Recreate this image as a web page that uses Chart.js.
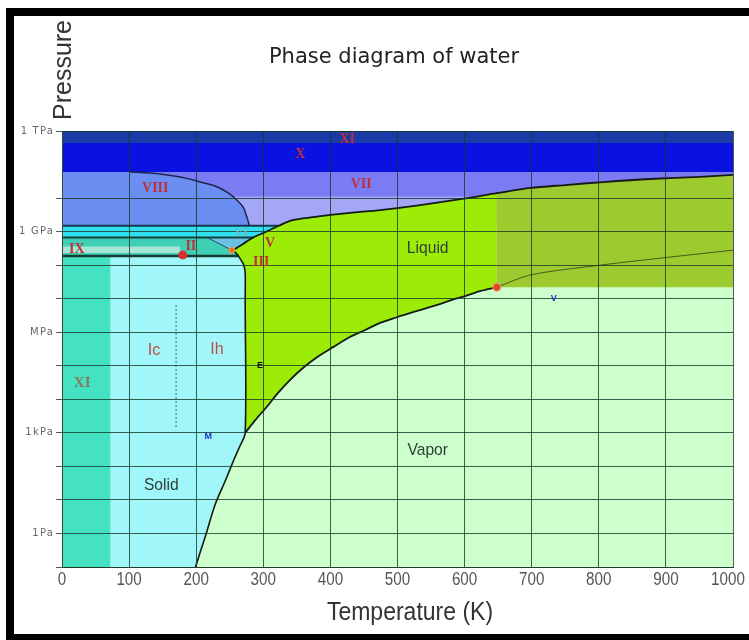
<!DOCTYPE html>
<html lang="en">
<head>
<meta charset="UTF-8">
<title>Phase diagram of water</title>
<script src="https://cdn.jsdelivr.net/npm/chart.js"></script>
<style>
    html, body { margin: 0; padding: 0; background: #fff; }
    body { width: 749px; height: 640px; position: relative; overflow: hidden; }
    #wrap { position: absolute; left: 0; top: 0; width: 749px; height: 640px; }
    .frame {
        position: absolute; left: 6px; top: 8px; width: 800px; height: 618px;
        border-top: 8px solid #000; border-left: 8px solid #000; border-bottom: 6px solid #000;
        pointer-events: none;
    }
</style>
</head>
<body>
<div id="wrap"><canvas id="phaseChart"></canvas></div>
<div class="frame"></div>

<script>
    // axis ticks
    const tempTicks = [0, 100, 200, 300, 400, 500, 600, 700, 800, 900, 1000];
    const pressureDecades = [-1, 0, 1, 2, 3, 4, 5, 6, 7, 8, 9, 10, 11, 12];
    const pressureLabelAt = [12, 9, 6, 3, 0];
    const pressureLabelText = ['1 TPa', '1 GPa', 'MPa', '1kPa', '1Pa'];

    // boundaries, [T (K), P (Pa)]
    const meltCurve = [[255, 2.8e8], [270, 4.3e8], [285, 6.7e8], [303, 9.7e8], [323, 1.5e9], [344, 2.2e9],
                       [374, 2.7e9], [404, 3.2e9], [440, 3.8e9], [471, 4.3e9], [534, 6.2e9], [604, 1.0e10],
                       [648, 1.4e10], [698, 2.0e10], [750, 2.45e10], [806, 3.0e10], [876, 3.7e10],
                       [951, 4.3e10], [1000, 4.9e10]];
    const iceIhMelt = [[273, 1000], [273, 9.1e6], [273, 5.9e7], [271, 1.0e8], [268, 1.3e8], [263, 1.86e8],
                       [261, 2.1e8], [255, 2.8e8]];
    const boilCurve = [[273, 1000], [288, 2.4e3], [305, 5.9e3], [322, 1.55e4], [340, 3.8e4], [359, 8.6e4],
                       [380, 1.8e5], [404, 3.6e5], [429, 7.2e5], [452, 1.17e6], [474, 1.9e6], [499, 2.8e6],
                       [529, 4.3e6], [559, 6.5e6], [580, 9.1e6], [601, 1.2e7], [624, 1.7e7], [648, 2.2e7]];
    const sublCurve = [[199, 0.1], [207, 0.32], [215, 1.0], [228, 7.1], [244, 40], [256, 155], [264.5, 380], [273, 1000]];
    const widomLine = [[648, 2.2e7], [698, 5.1e7], [802, 1.0e8], [906, 1.74e8], [1000, 2.8e8]];
    const viiiCurve = [[101, 6.0e10], [131, 5.6e10], [157, 4.9e10], [183, 4.0e10], [206, 3.0e10], [228, 2.3e10],
                       [246, 1.5e10], [259, 9.4e9], [270, 5.4e9], [274, 3.35e9], [277, 2.2e9], [279, 1.5e9]];
    const iceVLine = [[216, 6.7e8], [253, 2.8e8]];
    const icIhLine = [[170, 1.5e3], [170, 6.5e6]];

    // band levels (Pa) and band temperatures (K)
    const pTop = 1e12, pBottom = 0.1;
    const pNavyLow = 4.4e11, pXLow = 6.0e10, pLightTop = 1.12e10;
    const pVIHigh = 1.5e9, pVILow = 6.7e8, pIILow = 1.86e8;
    const pIXTop = 3.6e8, pIXLow = 2.3e8, pCrit = 2.2e7;
    const tXI = 72, tIX = 176, tCrit = 648, tLight = 240;

    const specialPoints = [[180, 2.0e8], [253, 2.8e8], [648, 2.2e7]];

    const phaseLabels = [[545, 3.2e8, 'Liquid'], [545, 310, 'Vapor'], [148, 28, 'Solid']];
    const iceLabels = [[425, 5.8e11, 'XI'], [355, 2.0e11, 'X'], [139, 2.0e10, 'VIII'], [446, 2.6e10, 'VII'],
                       [310, 4.6e8, 'V'], [297, 1.23e8, 'III'], [192, 3.7e8, 'II'], [22, 3.0e8, 'IX']];
    const faintLabels = [[267, 9.1e8, 'VI']];
    const lowXILabel = [[30, 3.1e4, 'XI']];
    const ihLabels = [[137, 2.8e5, 'Ic'], [231, 3.0e5, 'Ih']];
    const markLabels = [[295, 1.05e5, 'E', '#111'], [218, 760, 'M', '#2233cc'], [733, 9.8e6, 'V', '#2233cc']];

    const pts = arr => arr.map(p => ({ x: p[0], y: p[1] }));
    const rect = (t0, t1, p0, p1) => [[t0, p0], [t1, p0], [t1, p1], [t0, p1]];
    const rev = arr => arr.slice().reverse();

    function area(points, color, order) {
        return { data: pts(points), backgroundColor: color, borderWidth: 0, fill: 'shape',
                 pointRadius: 0, tension: 0, order: order };
    }
    function curve(points, color, width, order, smooth, dash) {
        return { data: pts(points), borderColor: color, borderWidth: width, fill: false,
                 pointRadius: 0, tension: smooth, order: order, borderDash: dash || [] };
    }

    const meltToCrit = meltCurve.filter(p => p[0] <= tCrit);
    const meltFromCrit = meltCurve.filter(p => p[0] >= tCrit);
    const gridColor = 'rgba(25,55,40,0.8)';

    const datasets = [
        area(rect(0, 1000, pBottom, pTop), '#ccffcc', 100),
        area(rect(0, 1000, pNavyLow, pTop), '#1a3aa6', 90),
        area(rect(0, 1000, pXLow, pNavyLow), '#0a12e2', 89),
        area(rect(0, 1000, pVIHigh, pXLow), '#7b7bf4', 88),
        area(rect(tLight, 1000, pVIHigh, pLightTop), '#a3a7f6', 87),
        area([[0, pXLow]].concat(viiiCurve, [[0, pVIHigh]]), '#6a8ef2', 86),
        area([[0, pVIHigh], [323, pVIHigh], [303, 9.7e8], [285, pVILow], [0, pVILow]], '#30e0ef', 85),
        area([[0, pVILow], [285, pVILow], [270, 4.3e8], [255, 2.8e8], [261, 2.1e8], [263, pIILow], [0, pIILow]], '#3fcfb4', 84),
        area([[216, pVILow], [285, pVILow], [270, 4.3e8], [253, 2.8e8]], '#6cc0e2', 83),
        area(rect(0, tIX, pIXLow, pIXTop), '#a6e6d6', 82),
        area([[0, pBottom]].concat(sublCurve, iceIhMelt.filter(p => p[1] <= pIILow), [[0, pIILow]]), '#a0f6f8', 81),
        area(rect(0, tXI, pBottom, pIILow), '#45e2c2', 80),
        area(meltToCrit.concat([[tCrit, pCrit]], rev(boilCurve), iceIhMelt), '#9cec08', 79),
        area([[tCrit, pCrit], [1000, pCrit]].concat(rev(meltFromCrit)), '#9dca2e', 78),

        curve(viiiCurve, '#1c2648', 1.5, 20, 0.3),
        curve([[0, pVIHigh], [323, pVIHigh]], '#17384a', 2, 20, 0),
        curve([[0, pVILow], [285, pVILow]], '#15423e', 2, 20, 0),
        curve([[0, pIILow], [263, pIILow]], '#173a32', 2.5, 20, 0),
        curve(iceVLine, '#2a5060', 1, 20, 0),
        curve(meltCurve, '#151a15', 1.8, 19, 0.3),
        curve(sublCurve.concat(iceIhMelt.slice(1)), '#151a15', 1.6, 19, 0.3),
        curve(boilCurve, '#151a15', 1.8, 19, 0.3),
        curve(widomLine, '#4a5a1c', 1, 19, 0.3),
        curve(icIhLine, '#556', 1, 19, 0, [2, 2]),

        { type: 'scatter', data: pts(specialPoints), pointRadius: [4, 3, 4],
          backgroundColor: ['#dd3030', '#e87020', '#e04a1a'], borderColor: ['#dd3030', '#f0a060', '#f0a080'],
          borderWidth: 1, order: 1 }
    ];

    const textPlugin = {
        id: 'texts',
        afterDraw(chart) {
            const { ctx } = chart;
            const xs = chart.scales.x, ys = chart.scales.y;
            ctx.save();
            ctx.textAlign = 'center';
            ctx.textBaseline = 'middle';

            const squeezed = (text, cx, cy, sx) => {
                ctx.save(); ctx.translate(cx, cy); ctx.scale(sx, 1); ctx.fillText(text, 0, 0); ctx.restore();
            };
            const at = (list, font, color) => {
                ctx.font = font;
                list.forEach(l => {
                    ctx.fillStyle = l[3] || color;
                    ctx.fillText(l[2], xs.getPixelForValue(l[0]), ys.getPixelForValue(l[1]));
                });
            };

            ctx.fillStyle = '#222';
            ctx.font = '21px "DejaVu Sans"';
            ctx.fillText('Phase diagram of water', 394, 58);

            ctx.fillStyle = '#333';
            ctx.font = '25px "Liberation Sans"';
            ctx.save(); ctx.translate(64, 70); ctx.rotate(-Math.PI / 2); ctx.fillText('Pressure', 0, 0); ctx.restore();

            ctx.font = '25px "Liberation Sans"';
            squeezed('Temperature (K)', 410, 613, 0.92);

            ctx.fillStyle = '#555';
            ctx.font = '19px "Liberation Sans"';
            tempTicks.forEach(t => {
                let px = xs.getPixelForValue(t);
                if (t === 1000) px = Math.min(px, 728);
                squeezed(String(t), px, 580, 0.8);
            });

            // pressure tick labels
            ctx.save();
            ctx.textAlign = 'right';
            ctx.font = '10px "DejaVu Sans"';
            ctx.letterSpacing = '1.2px';
            ctx.fillStyle = '#666';
            pressureLabelAt.forEach((e, i) => {
                ctx.fillText(pressureLabelText[i], 54, ys.getPixelForValue(Math.pow(10, e)));
            });
            ctx.restore();

            ctx.font = '17px "Liberation Sans"';
            ctx.fillStyle = '#2f3f38';
            phaseLabels.forEach(l => squeezed(l[2], xs.getPixelForValue(l[0]), ys.getPixelForValue(l[1]), 0.92));

            at(iceLabels, 'bold 14px "Liberation Serif"', '#c0303a');
            at(faintLabels, 'bold 12px "Liberation Serif"', '#78b4c4');
            at(lowXILabel, 'bold 15px "Liberation Serif"', '#857a5a');
            at(ihLabels, '16px "Liberation Sans"', '#c04c4c');
            at(markLabels, 'bold 9px "Liberation Sans"', '#111');
            ctx.restore();
        }
    };

    const ctx = document.getElementById('phaseChart').getContext('2d');
    const chart = new Chart(ctx, {
        type: 'line',
        data: { datasets: datasets },
        options: {
            responsive: true,
            maintainAspectRatio: false,
            animation: false,
            layout: { padding: { top: 131, right: 16, bottom: 0, left: 0 } },
            plugins: { legend: { display: false }, tooltip: { enabled: false } },
            scales: {
                x: {
                    type: 'linear', min: 0, max: 1000,
                    afterBuildTicks: s => { s.ticks = tempTicks.map(v => ({ value: v })); },
                    afterFit: s => { s.height = 73; },
                    ticks: { display: false },
                    grid: { color: gridColor, lineWidth: 1, drawTicks: false, z: 1 },
                    border: { color: '#3a4a3a', width: 1, z: 1 }
                },
                y: {
                    type: 'logarithmic', min: pBottom, max: pTop,
                    afterBuildTicks: s => { s.ticks = pressureDecades.map(e => ({ value: Math.pow(10, e) })); },
                    afterFit: s => { s.width = 62; },
                    ticks: { display: false },
                    grid: {
                        color: c => (c.tick && c.tick.value > pXLow * 1.01 && c.tick.value < pTop * 0.99) ? 'rgba(0,0,0,0)' : gridColor,
                        lineWidth: 1, tickLength: 6, z: 1
                    },
                    border: { color: '#3a4a3a', width: 1, z: 1 }
                }
            }
        },
        plugins: [textPlugin]
    });
</script>
</body>
</html>
